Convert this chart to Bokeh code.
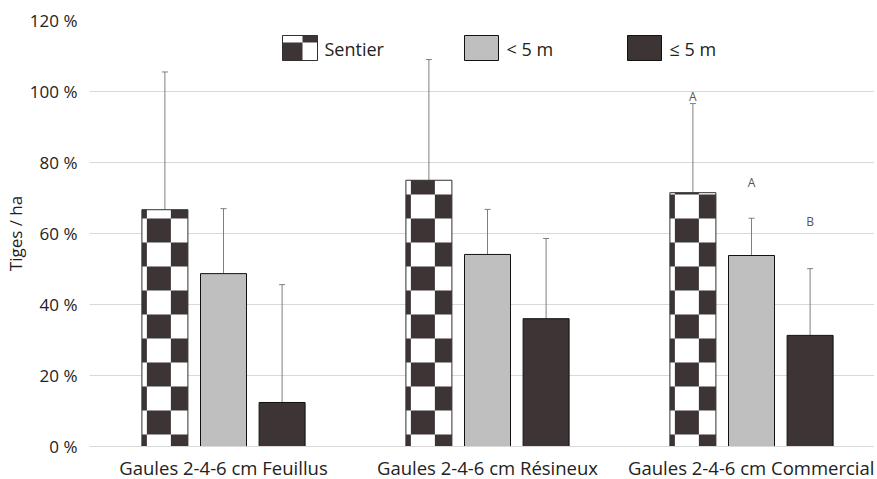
import numpy as np
from bokeh.plotting import figure
from bokeh.models import Range1d, FixedTicker, Whisker, TeeHead, ColumnDataSource
from bokeh.core.properties import value
from bokeh.embed import file_html
from bokeh.resources import INLINE

# ---------------- data ----------------
categories = ["Gaules 2-4-6 cm Feuillus", "Gaules 2-4-6 cm Résineux", "Gaules 2-4-6 cm Commercial"]
series_names = ["Sentier", "< 5 m", "\u2264 5 m"]
sentier = [66.7, 75.0, 71.5]
sentier_err = [38.8, 34.0, 25.1]
moins5 = [48.7, 54.1, 53.8]
moins5_err = [18.3, 12.7, 10.5]
plus5 = [12.4, 36.0, 31.3]
plus5_err = [33.2, 22.6, 18.8]
y_ticks = [0, 20, 40, 60, 80, 100, 120]
y_tick_labels = ["0 %", "20 %", "40 %", "60 %", "80 %", "100 %", "120 %"]
letters = ["A", "A", "B"]
letter_heights = [98.6, 74.4, 63.4]

# ---------------- layout / style ----------------
BL, BR, BT, BB = 84, 0, 20, 30
FRAME_W = 785
FRAME_H = 426
PX_X = 264.0                      # pixels per category
PX_Y = FRAME_H / 120.0            # pixels per percent
X0 = -2.0 / PX_X
OFFS = [-0.222, 0.0, 0.222]
BAR_W = 46.0 / PX_X
DARK = "#3d3435"
GRAY = "#bfbfbf"
ERR = "#7f7f7f"
TXT = "#222222"
FONT = "Open Sans"

def X(px):
    return (px - 92.0) / PX_X

def Y(py):
    return (447.0 - py) / PX_Y

p = figure(frame_width=FRAME_W, frame_height=FRAME_H, output_backend="svg", toolbar_location=None,
           x_range=Range1d(X0, X0 + FRAME_W / PX_X), y_range=Range1d(0, 120),
           min_border_left=BL, min_border_right=BR, min_border_top=BT, min_border_bottom=BB)
p.title.visible = False
p.outline_line_color = None
p.background_fill_color = "white"
p.border_fill_color = "white"

centers = np.arange(len(categories)) + 0.5

# grid / axes
p.xgrid.visible = False
p.ygrid.ticker = FixedTicker(ticks=y_ticks)
p.ygrid.grid_line_color = "#d9d9d9"
p.ygrid.grid_line_width = 1

p.yaxis.ticker = FixedTicker(ticks=y_ticks)
p.yaxis.major_label_overrides = {t: l for t, l in zip(y_ticks, y_tick_labels)}
p.yaxis.axis_line_color = None
p.yaxis.major_tick_line_color = None
p.yaxis.minor_tick_line_color = None
p.yaxis.major_tick_out = 0
p.yaxis.major_tick_in = 0
p.yaxis.minor_tick_out = 0
p.yaxis.major_label_standoff = 12
p.yaxis.major_label_text_font = FONT
p.yaxis.major_label_text_font_size = "17px"
p.yaxis.major_label_text_color = TXT
p.yaxis.axis_label = "Tiges / ha"
p.yaxis.axis_label_text_font = FONT
p.yaxis.axis_label_text_font_size = "17px"
p.yaxis.axis_label_text_font_style = "normal"
p.yaxis.axis_label_text_color = TXT
p.yaxis.axis_label_standoff = 0

p.xaxis.ticker = FixedTicker(ticks=list(centers))
p.xaxis.major_label_overrides = {float(c): n for c, n in zip(centers, categories)}
p.xaxis.axis_line_color = "#d9d9d9"
p.xaxis.major_tick_line_color = None
p.xaxis.minor_tick_line_color = None
p.xaxis.major_tick_out = 0
p.xaxis.major_tick_in = 0
p.xaxis.minor_tick_out = 0
p.xaxis.major_label_standoff = 8
p.xaxis.major_label_text_font = FONT
p.xaxis.major_label_text_font_size = "18.5px"
p.xaxis.major_label_text_color = TXT

# ---------------- bars ----------------
xs_s = centers + OFFS[0]
xs_m = centers + OFFS[1]
xs_p = centers + OFFS[2]

# checker bars: white base, dark squares, outline
p.vbar(x=xs_s, top=sentier, width=BAR_W, fill_color="white", line_color=None)
SQ = 24.0
PHASE = 5.0
qx0, qx1, qy0, qy1 = [], [], [], []
for xc, top in zip(xs_s, sentier):
    left = xc - BAR_W / 2
    right = xc + BAR_W / 2
    col_edges = [0.0] + [PHASE + k * SQ for k in range(10)]
    hrow = SQ / PX_Y
    nrows = int(top / hrow) + 2
    for r in range(nrows):
        y0 = max(0.0, (r - 0.5) * hrow)
        y1 = min(top, (r + 0.5) * hrow)
        if y1 <= y0:
            continue
        for c in range(len(col_edges) - 1):
            a = left + col_edges[c] / PX_X
            b = min(right, left + col_edges[c + 1] / PX_X)
            if b <= a:
                continue
            if (r + c) % 2 == 0:
                qx0.append(a); qx1.append(b); qy0.append(y0); qy1.append(y1)
p.quad(left=qx0, right=qx1, bottom=qy0, top=qy1, fill_color=DARK, line_color=None)
p.vbar(x=xs_s, top=sentier, width=BAR_W, fill_color=None, line_color="#303030", line_width=1)

p.vbar(x=xs_m, top=moins5, width=BAR_W, fill_color=GRAY, line_color="#111111", line_width=1)
p.vbar(x=xs_p, top=plus5, width=BAR_W, fill_color=DARK, line_color="#111111", line_width=1)

# error bars (upper only)
ex = np.concatenate([xs_s, xs_m, xs_p])
elow = np.array(sentier + moins5 + plus5)
eup = elow + np.array(sentier_err + moins5_err + plus5_err)
esrc = ColumnDataSource(dict(x=ex, lower=elow, upper=eup))
wh = Whisker(base="x", lower="lower", upper="upper", source=esrc, dimension="height",
             line_color=ERR, line_width=1,
             upper_head=TeeHead(size=6, line_color=ERR, line_width=1), lower_head=None)
p.add_layout(wh)

# significance letters on the third group
lx = [xs_s[2], xs_m[2], xs_p[2]]
p.text(x=lx, y=letter_heights, text=letters, text_align="center", text_baseline="middle",
       text_font=value(FONT), text_font_size="12px", text_color="#555555")

# ---------------- legend (drawn manually) ----------------
sw_top, sw_bot = Y(36), Y(61)
cl, cr, cm = X(283), X(318), X(303)
ymid = Y(43)
p.quad(left=[cl], right=[cr], bottom=[sw_bot], top=[sw_top], fill_color="white", line_color=None)
p.quad(left=[cm, cl], right=[cr, cm], bottom=[ymid, sw_bot], top=[sw_top, ymid],
       fill_color=DARK, line_color=None)
p.quad(left=[cl], right=[cr], bottom=[sw_bot], top=[sw_top], fill_color=None, line_color="#303030")
p.quad(left=[X(465)], right=[X(499)], bottom=[sw_bot], top=[sw_top], fill_color=GRAY, line_color="#111111")
p.quad(left=[X(628)], right=[X(662)], bottom=[sw_bot], top=[sw_top], fill_color=DARK, line_color="#111111")
p.text(x=[X(325), X(507), X(670)], y=[Y(49)] * 3, text=series_names,
       text_align="left", text_baseline="middle",
       text_font=value(FONT), text_font_size="18px", text_color=TXT)

open("out.html", "w").write(file_html(p, INLINE))
